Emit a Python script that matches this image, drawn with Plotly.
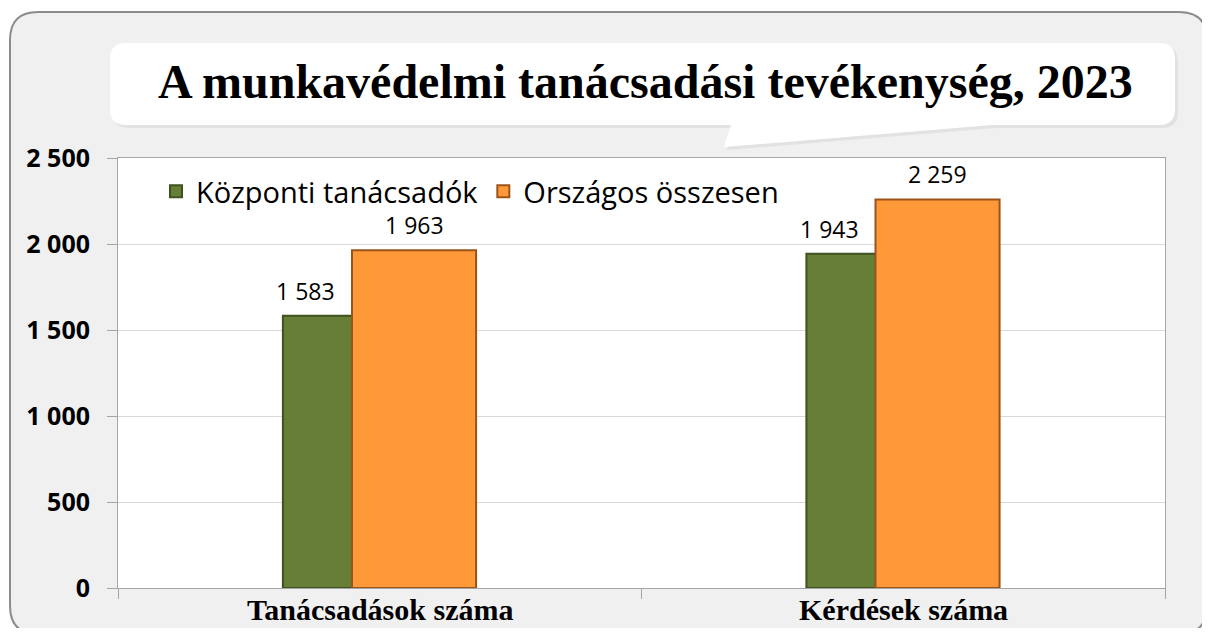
import plotly.graph_objects as go

# ---- data ----
categories = ["Tanácsadások száma", "Kérdések száma"]
kozponti = [1583, 1943]
orszagos = [1963, 2259]
series_names = ["Központi tanácsadók", "Országos összesen"]
y_ticks = [0, 500, 1000, 1500, 2000, 2500]
title_text = "A munkavédelmi tanácsadási tevékenység, 2023"

def fmt(v):
    return f"{v:,}".replace(",", " ")

# page is rendered with an 8px body margin
OFF = 8
PAGE_W, PAGE_H = 1210, 636
W, H = PAGE_W - 2 * OFF, PAGE_H - 2 * OFF
L, R, T, B = 118, 1165, 158, 588  # plot area, page pixels

def px(x):
    return (x - L) / (R - L)

def py(y):
    return (B - y) / (B - T)

def rrect(x0, y0, x1, y1, r):
    return (f"M{px(x0+r)},{py(y0)} L{px(x1-r)},{py(y0)} Q{px(x1)},{py(y0)} {px(x1)},{py(y0+r)} "
            f"L{px(x1)},{py(y1-r)} Q{px(x1)},{py(y1)} {px(x1-r)},{py(y1)} "
            f"L{px(x0+r)},{py(y1)} Q{px(x0)},{py(y1)} {px(x0)},{py(y1-r)} "
            f"L{px(x0)},{py(y0+r)} Q{px(x0)},{py(y0)} {px(x0+r)},{py(y0)} Z")

def callout(x0, y0, x1, y1, r, tb0, tip, tb1):
    return (f"M{px(x0+r)},{py(y0)} L{px(x1-r)},{py(y0)} Q{px(x1)},{py(y0)} {px(x1)},{py(y0+r)} "
            f"L{px(x1)},{py(y1-r)} Q{px(x1)},{py(y1)} {px(x1-r)},{py(y1)} "
            f"L{px(tb1)},{py(y1)} L{px(tip[0])},{py(tip[1])} L{px(tb0)},{py(y1)} "
            f"L{px(x0+r)},{py(y1)} Q{px(x0)},{py(y1)} {px(x0)},{py(y1-r)} "
            f"L{px(x0)},{py(y0+r)} Q{px(x0)},{py(y0)} {px(x0+r)},{py(y0)} Z")

bar_w = 0.237
green_off = -0.185
orange_off = -0.053
cat_px = (R - L) / 2

fig = go.Figure()
fig.add_trace(go.Bar(
    x=categories, y=kozponti, name=series_names[0],
    width=bar_w, offset=green_off,
    marker=dict(color="#677e36", line=dict(color="#3f5220", width=2)),
))
fig.add_trace(go.Bar(
    x=categories, y=orszagos, name=series_names[1],
    width=bar_w, offset=orange_off,
    marker=dict(color="#ff9838", line=dict(color="#9a5418", width=2)),
))

lab_font = dict(family="Open Sans", size=23, color="#000000")
annotations = []
for c, v in zip(categories, kozponti):
    annotations.append(dict(x=c, y=v, text=fmt(v), showarrow=False, yanchor="bottom",
                            xshift=-74, yshift=7, font=lab_font))
for c, v in zip(categories, orszagos):
    annotations.append(dict(x=c, y=v, text=fmt(v), showarrow=False, yanchor="bottom",
                            xshift=(orange_off + bar_w / 2) * cat_px, yshift=7, font=lab_font))
# category labels below the axis
for c in categories:
    annotations.append(dict(x=c, xref="x", yref="paper", y=py(628), text=f"<b>{c}</b>",
                            showarrow=False, xanchor="center", yanchor="bottom",
                            font=dict(family="Liberation Serif", size=30, color="#000000")))
annotations.append(dict(xref="paper", yref="paper", x=px(645), y=py(81), text=f"<b>{title_text}</b>",
                        showarrow=False, xanchor="center", yanchor="middle",
                        font=dict(family="Liberation Serif", size=48, color="#000000")))

shapes = [
    dict(type="path", xref="paper", yref="paper", path=rrect(10, 12, 1207, 634, 28),
         fillcolor="#f0f0f0", line=dict(color="#8c8c8c", width=2), layer="below"),
    dict(type="rect", xref="paper", yref="paper", x0=0, x1=1, y0=0, y1=1,
         fillcolor="#ffffff", line=dict(width=0), layer="below"),
    dict(type="path", xref="paper", yref="paper",
         path=callout(113, 46, 1178, 128, 16, 734, (727, 150), 995),
         fillcolor="#d9d9d9", line=dict(width=0), layer="above", opacity=0.6),
    dict(type="path", xref="paper", yref="paper",
         path=callout(110, 43, 1175, 125, 16, 731, (724, 147), 992),
         fillcolor="#ffffff", line=dict(width=0), layer="above"),
]

fig.update_layout(
    width=W, height=H,
    margin=dict(l=L - OFF, r=W - (R - OFF), t=T - OFF, b=H - (B - OFF)),
    paper_bgcolor="#ffffff", plot_bgcolor="#ffffff",
    barmode="overlay",
    showlegend=True,
    legend=dict(orientation="h", x=px(156), y=py(166), xanchor="left", yanchor="top",
                font=dict(family="Open Sans", size=29, color="#000000"),
                bgcolor="rgba(0,0,0,0)", itemwidth=30, tracegroupgap=0),
    annotations=annotations,
    shapes=shapes,
    xaxis=dict(
        type="category", tickson="boundaries", ticks="outside", ticklen=10, tickcolor="#a6a6a6",
        showline=True, linecolor="#a6a6a6", linewidth=1, mirror=True,
        showgrid=False, automargin=False, showticklabels=False,
    ),
    yaxis=dict(
        range=[0, 2500], tickvals=y_ticks, ticktext=[f"<b>{fmt(v)}</b>" for v in y_ticks],
        ticks="outside", ticklen=10, tickcolor="#a6a6a6",
        showline=True, linecolor="#a6a6a6", linewidth=1, mirror=True,
        showgrid=True, gridcolor="#d9d9d9", gridwidth=1, automargin=False,
        tickfont=dict(family="Open Sans", size=25, color="#000000"),
        ticklabelstandoff=12, zeroline=False,
    ),
)

fig.write_html("out.html")
